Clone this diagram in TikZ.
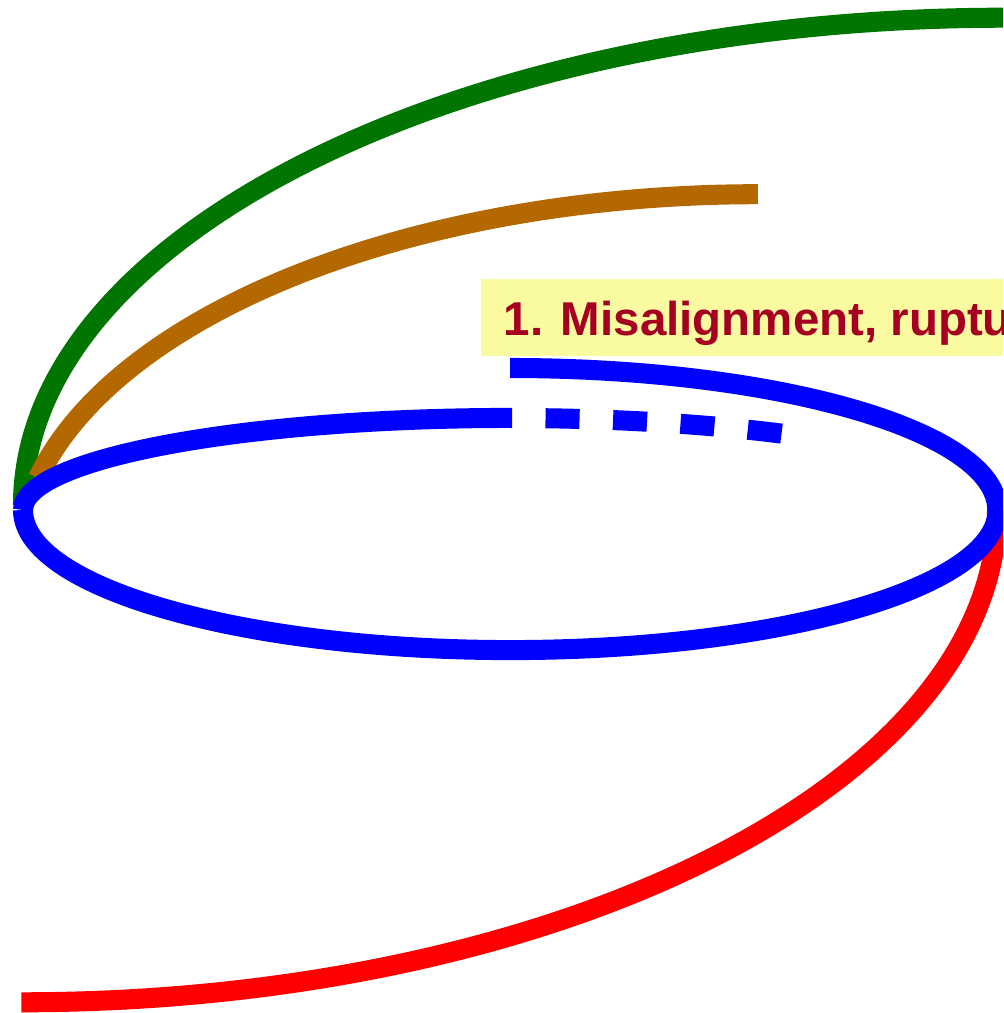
\documentclass[tikz,border=0pt]{standalone}
\usepackage{fontspec}
\setmainfont{Liberation Sans}
\definecolor{leafgreen}{RGB}{0,118,0}
\definecolor{rustbrown}{RGB}{180,104,0}
\definecolor{ringblue}{RGB}{0,0,255}
\definecolor{strokered}{RGB}{255,0,0}
\definecolor{boxyellow}{RGB}{250,250,160}
\definecolor{labelred}{RGB}{165,0,33}
\begin{document}
\begin{tikzpicture}[x=0.01cm, y=0.01cm,
  curve/.style={line width=5.7pt, line cap=butt},
  tag/.style={anchor=base west, inner sep=0pt, text=labelred,
    font=\bfseries\fontsize{13.5}{16}\selectfont}]
\useasboundingbox (0,0) rectangle (1003,-1013);
\clip (0,0) rectangle (1003,-1013);

% outer sweeping curves, drawn beneath the ring
\draw[curve, leafgreen] (23,-505)
  arc[start angle=180, end angle=90, x radius=9.80cm, y radius=4.87cm];
\draw[curve, rustbrown] (38,-478)
  arc[start angle=166.5, end angle=90, x radius=7.40cm, y radius=3.70cm];
\draw[curve, strokered] (997,-510)
  arc[start angle=0, end angle=-90, x radius=9.75cm, y radius=4.92cm];

% the ring: a flattened upper-left half, an offset upper-right half
\draw[curve, ringblue] (23,-510)
  arc[start angle=180, end angle=90, x radius=4.87cm, y radius=0.92cm];
\draw[curve, ringblue, dash pattern=on 0.34cm off 0.335cm, dash phase=0.32cm] (510,-418)
  arc[start angle=90, end angle=53, x radius=4.87cm, y radius=0.92cm];
\draw[curve, ringblue] (510,-368)
  arc[start angle=90, end angle=0, x radius=4.87cm, y radius=1.42cm];
\draw[curve, ringblue] (23,-510)
  arc[start angle=180, end angle=360, x radius=4.87cm, y radius=1.40cm];

% caption banner
\fill[boxyellow] (481,-279) rectangle (1010,-356);
\node[tag] (caption) at (503,-336) {1. Misalignment, rupture};
\end{tikzpicture}
\end{document}
